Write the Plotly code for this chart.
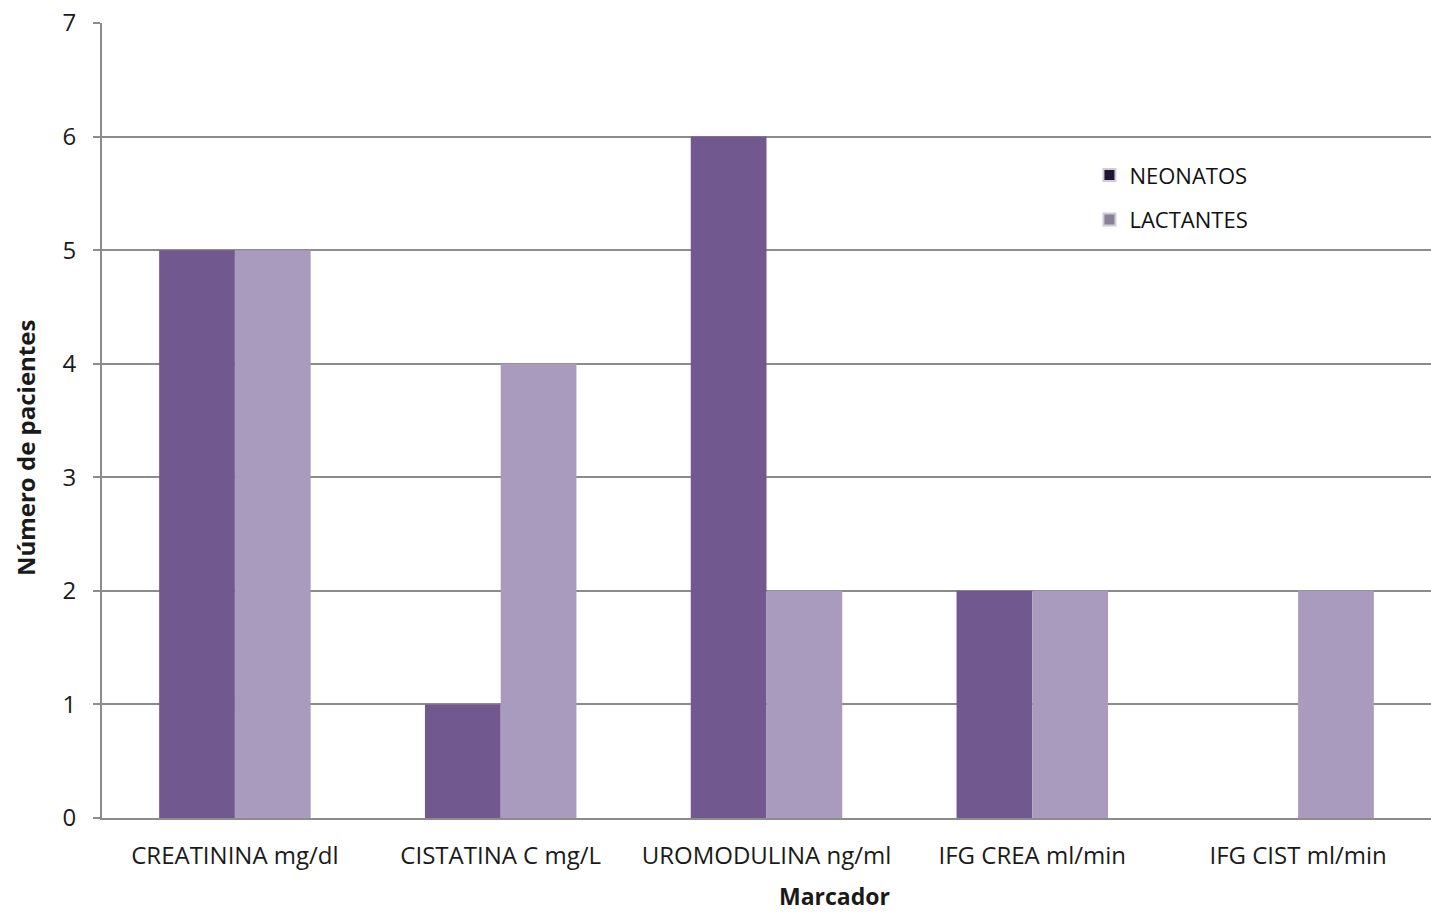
import plotly.graph_objects as go

# Data
marcadores = ["CREATININA mg/dl", "CISTATINA C mg/L", "UROMODULINA ng/ml",
              "IFG CREA ml/min", "IFG CIST ml/min"]
neonatos = [5, 1, 6, 2, 0]
lactantes = [5, 4, 2, 2, 2]

BAR_NEO = "#71588f"
BAR_LAC = "#a99bbd"
LEG_NEO = "#1f1533"
LEG_LAC = "#8a8097"
GRID = "#8c8c8c"
FONT = "Open Sans"

fig = go.Figure()
fig.add_trace(go.Bar(x=marcadores, y=neonatos, name="NEONATOS",
                     marker=dict(color=BAR_NEO, line=dict(width=0)),
                     showlegend=False))
fig.add_trace(go.Bar(x=marcadores, y=lactantes, name="LACTANTES",
                     marker=dict(color=BAR_LAC, line=dict(width=0)),
                     showlegend=False))

# Legend entries with their own swatch colours
for name, col in [("NEONATOS", LEG_NEO), ("LACTANTES", LEG_LAC)]:
    fig.add_trace(go.Scatter(x=[None], y=[None], mode="markers", name=name,
                             legendgroup=name,
                             marker=dict(symbol="square", size=12, color=col,
                                         line=dict(width=1, color="#d0cbd8"))))

# Axis titles placed as annotations
fig.add_annotation(text="<b>Marcador</b>", xref="paper", yref="paper",
                   x=0.5515, y=-0.0975, xanchor="center", yanchor="middle",
                   showarrow=False, borderpad=0,
                   font=dict(size=23, color="#1a1a1a"))
fig.add_annotation(text="<b>Número de pacientes</b>", xref="paper", yref="paper",
                   x=-0.0579, y=0.4654, xanchor="center", yanchor="middle",
                   textangle=-90, showarrow=False,
                   font=dict(size=24, color="#1a1a1a"))

fig.update_layout(
    width=1431, height=913,
    margin=dict(l=102, r=0, t=23, b=95),
    paper_bgcolor="white", plot_bgcolor="white",
    barmode="group", bargap=0.43, bargroupgap=0,
    font=dict(family=FONT, size=24, color="#1a1a1a"),
    legend=dict(x=0.743, y=0.835, xanchor="left", yanchor="top",
                bgcolor="rgba(0,0,0,0)", font=dict(size=22, color="#111"),
                itemwidth=30, tracegroupgap=13, itemsizing="constant"),
    xaxis=dict(showline=True, linecolor=GRID, linewidth=2,
               showgrid=False, ticks="", tickfont=dict(size=24),
               ticklabelstandoff=15),
    yaxis=dict(range=[0, 7], dtick=1, showline=True, linecolor=GRID, linewidth=2,
               showgrid=True, gridcolor=GRID, gridwidth=2,
               ticks="outside", ticklen=7, tickcolor=GRID, tickwidth=2,
               tickfont=dict(size=24), zeroline=False, ticklabelstandoff=12),
)

fig.write_html("out.html")
